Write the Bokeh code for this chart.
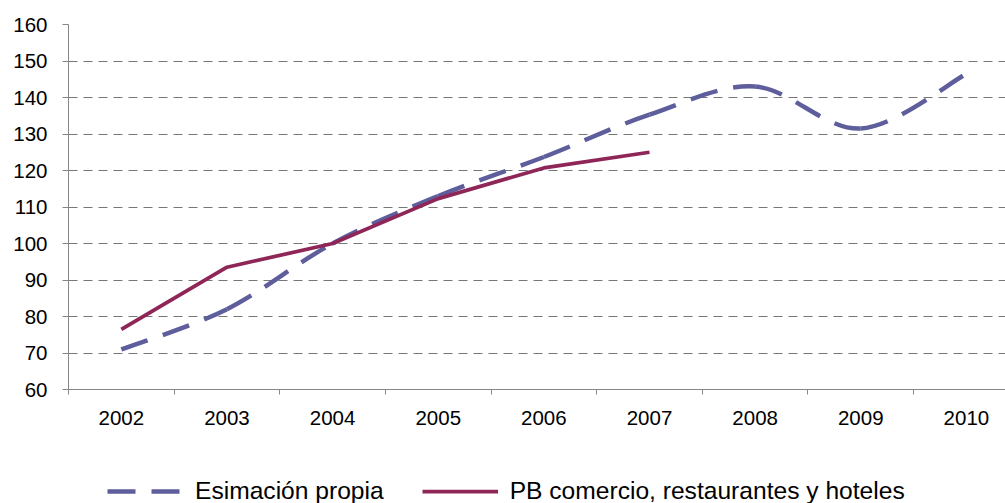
from bokeh.plotting import figure
from bokeh.layouts import column
from bokeh.models import (Range1d, FixedTicker, Legend, LegendItem,
                          ColumnDataSource)
from bokeh.embed import file_html
from bokeh.resources import INLINE

# ---- data ----
years = ["2002", "2003", "2004", "2005", "2006", "2007", "2008", "2009", "2010"]
estimacion = [71.0, 82.0, 100.0, 113.0, 123.7, 135.3, 143.0, 131.5, 146.5]
pb_comercio = [76.5, 93.5, 100.0, 112.3, 120.7, 125.0]
y_ticks = [60, 70, 80, 90, 100, 110, 120, 130, 140, 150, 160]
label_est = "Esimación propia"
label_pb = "PB comercio, restaurantes y hoteles"

FONT = "Liberation Sans"
C_EST = "#5E5E9C"
C_PB = "#8E2657"
DASH = "28 16"

p = figure(width=1005, height=440,
           x_range=Range1d(-0.5, 8.37), y_range=Range1d(60, 160),
           output_backend="svg", toolbar_location=None,
           min_border_left=68, min_border_right=0,
           min_border_top=24, min_border_bottom=51)
p.outline_line_color = None
p.background_fill_color = "white"
p.border_fill_color = "white"

# grid
p.xgrid.grid_line_color = None
p.ygrid.ticker = FixedTicker(ticks=y_ticks)
p.ygrid.grid_line_color = "#777777"
p.ygrid.grid_line_dash = "9 6"
p.ygrid.grid_line_width = 1

# y axis
ya = p.yaxis[0]
ya.ticker = FixedTicker(ticks=y_ticks)
ya.axis_line_color = "#868686"
ya.major_tick_line_color = "#868686"
ya.major_tick_out = 6
ya.major_tick_in = 0
ya.minor_tick_line_color = None
ya.major_label_standoff = 15
ya.major_label_text_font = FONT
ya.major_label_text_font_size = "20.5px"
ya.major_label_text_color = "black"

# x axis: labels at category centres, ticks at category boundaries
xs = list(range(len(years)))
xa = p.xaxis[0]
xa.ticker = FixedTicker(ticks=xs, minor_ticks=[i - 0.5 for i in xs])
xa.major_label_overrides = {i: y for i, y in enumerate(years)}
xa.axis_line_color = "#868686"
xa.major_tick_line_color = None
xa.major_tick_out = 0
xa.major_tick_in = 0
xa.minor_tick_line_color = "#868686"
xa.minor_tick_out = 5
xa.minor_tick_in = 0
xa.major_label_standoff = 16
xa.major_label_text_font = FONT
xa.major_label_text_font_size = "20.5px"
xa.major_label_text_color = "black"

# smoothed dashed series (Bezier segments, control points from neighbours)
n = len(estimacion)
x0s, y0s, x1s, y1s, cx0s, cy0s, cx1s, cy1s = ([] for _ in range(8))
for i in range(n - 1):
    a = max(i - 1, 0)
    d = min(i + 2, n - 1)
    x0s.append(xs[i]); y0s.append(estimacion[i])
    x1s.append(xs[i + 1]); y1s.append(estimacion[i + 1])
    cx0s.append(xs[i] + (xs[i + 1] - xs[a]) / 6.0)
    cy0s.append(estimacion[i] + (estimacion[i + 1] - estimacion[a]) / 6.0)
    cx1s.append(xs[i + 1] - (xs[d] - xs[i]) / 6.0)
    cy1s.append(estimacion[i + 1] - (estimacion[d] - estimacion[i]) / 6.0)
bez_src = ColumnDataSource(dict(x0=x0s, y0=y0s, x1=x1s, y1=y1s,
                                cx0=cx0s, cy0=cy0s, cx1=cx1s, cy1=cy1s))
p.bezier(x0="x0", y0="y0", x1="x1", y1="y1", cx0="cx0", cy0="cy0",
         cx1="cx1", cy1="cy1", source=bez_src, line_color=C_EST,
         line_width=4.5, line_dash=DASH, line_cap="butt")

# solid series
p.line(x=xs[:len(pb_comercio)], y=pb_comercio, line_color=C_PB,
       line_width=3.75, line_join="round")

# ---- legend strip below the chart ----
# (the series are drawn here outside the visible range, only their legend shows)
lg = figure(width=1005, height=63, x_range=Range1d(-100, -99),
            y_range=Range1d(-100, -99),
            output_backend="svg", toolbar_location=None,
            x_axis_location=None, y_axis_location=None,
            min_border_left=0, min_border_right=0,
            min_border_top=0, min_border_bottom=0)
lg.outline_line_color = None
lg.xgrid.grid_line_color = None
lg.ygrid.grid_line_color = None
lg.border_fill_color = "white"
lg.background_fill_color = "white"
le = lg.line(x=xs, y=estimacion, line_color=C_EST, line_width=4.5,
             line_dash=DASH)
lp = lg.line(x=xs[:len(pb_comercio)], y=pb_comercio, line_color=C_PB,
             line_width=3.75)

legend = Legend(items=[LegendItem(label=label_est, renderers=[le]),
                       LegendItem(label=label_pb, renderers=[lp])],
                orientation="horizontal", location=(39, -2))
legend.glyph_width = 76
legend.glyph_height = 24
legend.label_standoff = 12
legend.spacing = 38
legend.padding = 5
legend.margin = 0
legend.border_line_color = None
legend.background_fill_alpha = 0
legend.label_text_font = FONT
legend.label_text_font_size = "24.6px"
legend.label_text_color = "black"
lg.add_layout(legend, "center")

layout = column(p, lg, spacing=0)
open("out.html", "w").write(file_html(layout, INLINE))
